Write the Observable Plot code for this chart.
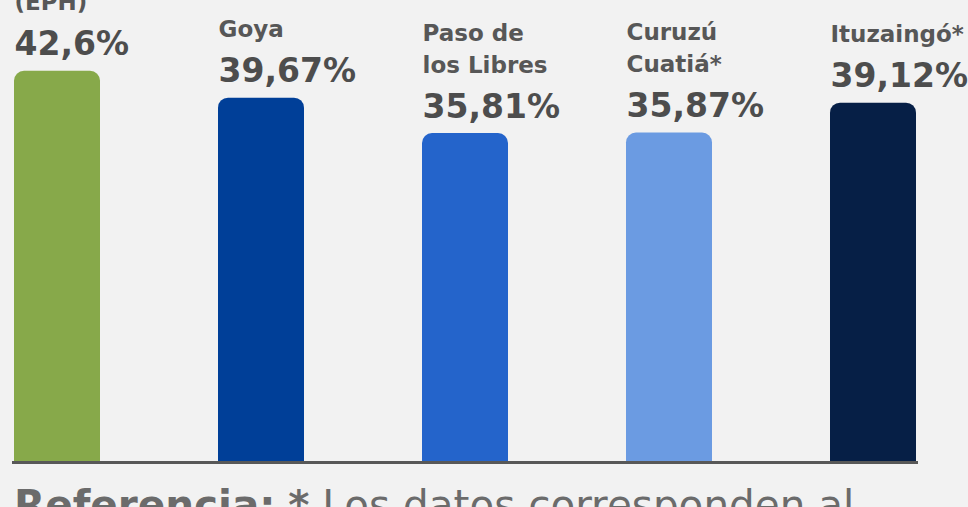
<!DOCTYPE html>
<html><head><meta charset="utf-8">
<script src="https://cdn.jsdelivr.net/npm/d3@7"></script>
<script src="https://cdn.jsdelivr.net/npm/@observablehq/plot@0.6"></script>
<style>
html,body{margin:0;padding:0;background:#f2f2f2;overflow:hidden;}
#chart svg{display:block;background:#f2f2f2;}
#caption{font-family:"DejaVu Sans",sans-serif;font-size:40.5px;color:#6b6b6b;margin:6px 0 0 14px;line-height:48px;white-space:nowrap;}
#caption b{font-weight:700;}
</style></head><body>
<div id="chart"></div>
<div id="caption"><b>Referencia:</b> <b>*</b> Los datos corresponden al</div>
<script>
const categories = ["(EPH)", "Goya", "Paso de\nlos Libres", "Curuzú\nCuatiá*", "Ituzaingó*"];
const values = [42.6, 39.67, 35.81, 35.87, 39.12];
const valueLabels = ["42,6%", "39,67%", "35,81%", "35,87%", "39,12%"];
const barColors = ["#87a94a", "#003f98", "#2464cb", "#6b9be2", "#061f46"];

const data = categories.map((c, i) => ({category: c, value: values[i], label: valueLabels[i], color: barColors[i]}));

const chart = Plot.plot({
  width: 968,
  height: 475,
  marginTop: 0,
  marginBottom: 13,
  marginLeft: 12,
  marginRight: 50,
  style: {background: "#f2f2f2", overflow: "visible"},
  x: {domain: categories, paddingInner: 0.58, paddingOuter: 0, round: true, axis: null},
  y: {domain: [0, 50.3], axis: null},
  marks: [
    Plot.barY(data, {x: "category", y: "value", fill: "color", rx: 10}),
    Plot.barY(data, {x: "category", y1: 0, y2: d => d.value * 0.8, fill: "color", shapeRendering: "crispEdges"}),
    Plot.ruleY([0], {stroke: "#585858", strokeWidth: 3}),
    Plot.text(data, {x: "category", y: "value", text: "label", textAnchor: "start", lineAnchor: "bottom", dx: -43, dy: -16,
      fill: "#4d4d4d", fontSize: 33, fontWeight: "bold", fontFamily: "DejaVu Sans"}),
    Plot.text(data, {x: "category", y: "value", text: "category", textAnchor: "start", lineAnchor: "bottom", dx: -43, dy: -61,
      lineHeight: 1.38, fill: "#575757", fontSize: 23, fontWeight: "bold", fontFamily: "DejaVu Sans"})
  ]
});
document.getElementById("chart").append(chart);
</script>
</body></html>
